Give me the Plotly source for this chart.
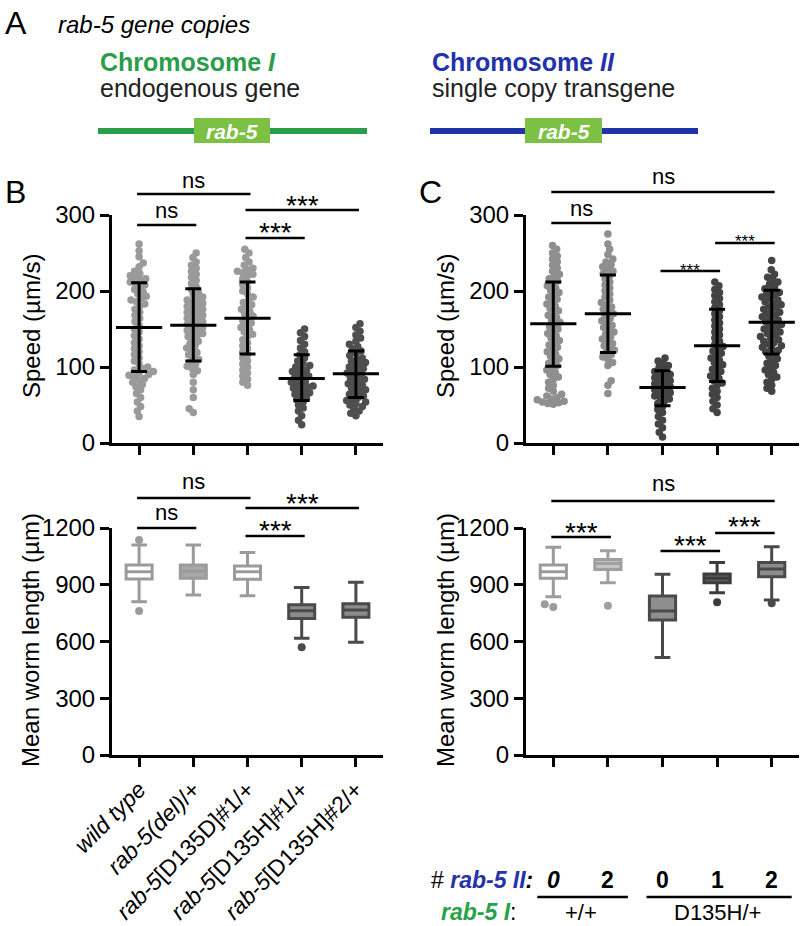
import math
import plotly.graph_objects as go

# ---------------- data ----------------
groups_B = ["wild type", "rab-5(del)/+", "rab-5[D135D]#1/+", "rab-5[D135H]#1/+", "rab-5[D135H]#2/+"]
tick_B = ["<i>wild type</i>", "<i>rab-5(del)</i>/+", "<i>rab-5</i>[D135D]#1/+",
          "<i>rab-5</i>[D135H]#1/+", "<i>rab-5</i>[D135H]#2/+"]
copies_II = ["0", "2", "0", "1", "2"]
rab5_I_groups = ["+/+", "D135H/+"]

speed_B0 = [262, 253, 245, 237, 232, 226, 223, 220, 218, 216, 214, 212, 210, 208, 205, 202, 199, 196, 193, 190,
            188, 186, 183, 180, 176, 172, 168, 164, 160, 155, 150, 146, 141, 137, 132, 128, 124, 120, 116, 112,
            108, 104, 100, 98, 96, 94, 92, 90, 89, 87, 85, 83, 80, 77, 74, 70, 65, 60, 54, 48, 42, 35]
speed_B1 = [250, 244, 238, 234, 230, 226, 222, 218, 214, 210, 206, 202, 198, 195, 192, 190, 188, 186, 184, 182,
            180, 178, 176, 174, 172, 170, 168, 166, 164, 162, 160, 158, 156, 154, 152, 150, 148, 146, 144, 142,
            140, 137, 134, 131, 128, 125, 122, 119, 116, 113, 110, 107, 104, 101, 98, 95, 90, 80, 70, 60, 45, 40]
speed_B2 = [255, 250, 244, 238, 234, 230, 228, 226, 224, 222, 220, 216, 212, 208, 204, 200, 196, 192, 188, 185,
            182, 179, 176, 173, 170, 167, 164, 161, 158, 155, 152, 149, 146, 143, 140, 136, 132, 128, 124, 120,
            116, 112, 108, 104, 100, 96, 92, 88, 84, 80, 76]
speed_B3 = [150, 145, 140, 135, 130, 125, 120, 116, 112, 108, 105, 102, 100, 98, 96, 94, 92, 90, 88, 86,
            84, 82, 80, 78, 76, 75, 74, 72, 70, 68, 66, 64, 62, 60, 57, 54, 50, 46, 42, 36, 30, 24]
speed_B4 = [157, 152, 147, 142, 138, 134, 130, 127, 124, 121, 118, 115, 112, 110, 108, 106, 104, 102, 100, 98,
            96, 94, 92, 90, 88, 86, 84, 82, 80, 78, 76, 74, 72, 70, 68, 66, 64, 62, 60, 58,
            56, 54, 52, 50, 48, 45, 42, 39, 36]
speed_B = [speed_B0, speed_B1, speed_B2, speed_B3, speed_B4]
mean_B = [152, 155, 164, 85, 91]
sd_hi_B = [211, 203, 212, 116, 121]
sd_lo_B = [94, 108, 117, 56, 60]

speed_C0 = [260, 255, 250, 246, 242, 238, 234, 230, 226, 222, 219, 216, 213, 210, 207, 204, 201, 198, 195, 192,
            189, 186, 183, 180, 177, 174, 171, 168, 165, 162, 159, 156, 153, 150, 147, 144, 141, 138, 135, 132,
            129, 126, 123, 120, 117, 114, 111, 108, 105, 102, 99, 96, 93, 90, 87, 84, 80, 76, 72, 68,
            64, 60, 57, 55, 53, 52, 51, 54, 58, 62]
speed_C1 = [275, 262, 255, 248, 242, 238, 235, 232, 229, 226, 223, 220, 216, 212, 208, 204, 200, 196, 192, 188,
            185, 182, 179, 176, 173, 170, 167, 164, 161, 158, 155, 152, 149, 146, 143, 140, 137, 134, 131, 128,
            125, 122, 119, 116, 113, 110, 106, 102, 82, 76, 65]
speed_C2 = [112, 108, 105, 102, 100, 97, 94, 92, 90, 88, 86, 84, 82, 80, 78, 76, 74, 72, 70, 68,
            66, 64, 62, 60, 58, 55, 52, 48, 44, 40, 35, 30, 25, 20, 14, 8]
speed_C3 = [212, 207, 202, 198, 194, 190, 186, 182, 178, 174, 170, 166, 162, 158, 154, 150, 146, 142, 138, 134,
            130, 127, 124, 121, 118, 115, 112, 109, 106, 103, 100, 97, 94, 91, 88, 85, 82, 79, 76, 72,
            68, 64, 60, 55, 50, 45, 40]
speed_C4 = [240, 228, 222, 218, 215, 212, 209, 206, 203, 200, 198, 196, 194, 192, 190, 188, 186, 184, 182, 180,
            178, 176, 174, 172, 170, 168, 166, 164, 162, 160, 158, 156, 154, 152, 150, 148, 146, 144, 142, 140,
            138, 136, 134, 132, 130, 128, 126, 124, 122, 120, 117, 114, 111, 108, 105, 102, 99, 96, 93, 90,
            87, 84, 80, 76, 72, 68]
speed_C = [speed_C0, speed_C1, speed_C2, speed_C3, speed_C4]
mean_C = [157, 170, 73, 128, 159]
sd_hi_C = [212, 221, 95, 176, 201]
sd_lo_C = [101, 119, 49, 81, 117]

# box stats: lower whisker, q1, median, q3, upper whisker
len_B_low = [810, 846, 842, 617, 596]
len_B_q1 = [930, 934, 929, 722, 728]
len_B_med = [969, 972, 969, 763, 766]
len_B_q3 = [1004, 1004, 999, 794, 800]
len_B_high = [1110, 1110, 1071, 886, 913]
len_B_out = [[1136, 761], [], [], [569], []]

len_C_low = [837, 911, 516, 858, 819]
len_C_q1 = [934, 981, 713, 911, 942]
len_C_med = [969, 1012, 761, 934, 983]
len_C_q3 = [1004, 1034, 840, 957, 1018]
len_C_high = [1098, 1080, 955, 1018, 1101]
len_C_out = [[782, 797], [789], [], [807], [802]]

# ---------------- layout helpers ----------------
W, H = 800, 926
LIGHT_B, DARK_B = "#9a9a9a", "#4f4f4f"
LIGHT_C, DARK_C = "#8f8f8f", "#444444"
FONT = "Liberation Sans, Arial, Helvetica, sans-serif"


def PX(x):
    return x / W


def PY(y):
    return 1 - y / H


AX = {
    "B_top": dict(xa="x", ya="y", x0=112, x1=383, yt=215, yb=443, yr=(0, 300), dt=[0, 100, 200, 300]),
    "B_bot": dict(xa="x2", ya="y2", x0=112, x1=383, yt=528, yb=755, yr=(0, 1200), dt=[0, 300, 600, 900, 1200]),
    "C_top": dict(xa="x3", ya="y3", x0=526, x1=799, yt=215, yb=443, yr=(0, 300), dt=[0, 100, 200, 300]),
    "C_bot": dict(xa="x4", ya="y4", x0=526, x1=799, yt=528, yb=755, yr=(0, 1200), dt=[0, 300, 600, 900, 1200]),
}
XR = (-0.5, 4.5)


def cat_px(ax, i):
    a = AX[ax]
    return a["x0"] + (i - XR[0]) / (XR[1] - XR[0]) * (a["x1"] - a["x0"])


def swarm(values, ppu_y, ppu_x, diam):
    order = sorted(range(len(values)), key=lambda k: values[k])
    placed = []
    offs = [0.0] * len(values)
    for n, k in enumerate(order):
        y = values[k] * ppu_y
        nb = [(yy, xx) for (yy, xx) in placed if abs(yy - y) < diam]
        cands = [0.0]
        for (yy, xx) in nb:
            dx = math.sqrt(max(diam ** 2 - (yy - y) ** 2, 0))
            cands += [xx + dx, xx - dx]
        sgn = 1 if n % 2 else -1
        cands.sort(key=lambda c: (round(abs(c), 4), sgn * c))
        chosen = 0.0
        for c in cands:
            if all((c - xx) ** 2 + (y - yy) ** 2 >= diam ** 2 - 1e-6 for (yy, xx) in nb):
                chosen = c
                break
        placed.append((y, chosen))
        offs[k] = chosen / ppu_x
    return offs


fig = go.Figure()


def ppu(ax):
    a = AX[ax]
    return (a["yb"] - a["yt"]) / (a["yr"][1] - a["yr"][0]), (a["x1"] - a["x0"]) / (XR[1] - XR[0])


# ---------- scatter panels ----------
for ax, data, means, hi, lo, cols in [
    ("B_top", speed_B, mean_B, sd_hi_B, sd_lo_B, [LIGHT_B] * 3 + [DARK_B] * 2),
    ("C_top", speed_C, mean_C, sd_hi_C, sd_lo_C, [LIGHT_C] * 2 + [DARK_C] * 3),
]:
    a = AX[ax]
    py_, px_ = ppu(ax)
    for i, vals in enumerate(data):
        offs = swarm(vals, py_, px_, 5.6)
        fig.add_trace(go.Scatter(
            x=[i + o for o in offs], y=vals, mode="markers", xaxis=a["xa"], yaxis=a["ya"],
            marker=dict(size=7.5, color=cols[i], line=dict(width=0)), cliponaxis=False,
            showlegend=False, hoverinfo="y"))
    fig.add_trace(go.Scatter(
        x=list(range(5)), y=means, mode="markers", xaxis=a["xa"], yaxis=a["ya"],
        marker=dict(symbol="line-ew", size=33, color="black", line=dict(width=3, color="black")),
        error_y=dict(type="data", symmetric=False,
                     array=[h - m for h, m in zip(hi, means)],
                     arrayminus=[m - l for m, l in zip(means, lo)],
                     color="black", thickness=3, width=8),
        cliponaxis=False, showlegend=False))

# ---------- box panels ----------
for ax, lows, q1s, meds, q3s, highs, outs, lines, fills in [
    ("B_bot", len_B_low, len_B_q1, len_B_med, len_B_q3, len_B_high, len_B_out,
     ["#9b9b9b"] * 3 + ["#4a4a4a"] * 2, ["#ffffff", "#a8a8a8", "#ffffff", "#8c8c8c", "#8c8c8c"]),
    ("C_bot", len_C_low, len_C_q1, len_C_med, len_C_q3, len_C_high, len_C_out,
     ["#9b9b9b", "#a0a0a0", "#4a4a4a", "#3c3c3c", "#4a4a4a"],
     ["#ffffff", "#c4c4c4", "#8e8e8e", "#5e5e5e", "#8c8c8c"]),
]:
    a = AX[ax]
    py_, px_ = ppu(ax)
    for i in range(5):
        fig.add_trace(go.Box(
            x=[i], q1=[q1s[i]], median=[meds[i]], q3=[q3s[i]], lowerfence=[lows[i]], upperfence=[highs[i]],
            xaxis=a["xa"], yaxis=a["ya"], width=0.48, whiskerwidth=0.6, boxpoints=False,
            line=dict(color=lines[i], width=3), fillcolor=fills[i], showlegend=False))
        if outs[i]:
            offs = swarm(outs[i], py_, px_, 9)
            fig.add_trace(go.Scatter(
                x=[i + o for o in offs], y=outs[i], mode="markers", xaxis=a["xa"], yaxis=a["ya"],
                marker=dict(size=8, color=lines[i]), cliponaxis=False, showlegend=False))

# ---------- axes ----------
axis_common = dict(showline=True, linewidth=3, linecolor="black", ticks="outside", ticklen=9,
                   tickwidth=3, tickcolor="black", showgrid=False, zeroline=False, automargin=False,
                   tickfont=dict(family=FONT, size=24, color="black"))
for ax, a in AX.items():
    xk = "xaxis" + a["xa"][1:]
    yk = "yaxis" + a["ya"][1:]
    fig.layout[xk] = dict(axis_common, domain=[PX(a["x0"]), PX(a["x1"])], range=list(XR),
                          anchor=a["ya"], tickvals=list(range(5)),
                          showticklabels=(ax == "B_bot"), fixedrange=True)
    fig.layout[yk] = dict(axis_common, domain=[PY(a["yb"]), PY(a["yt"])], range=list(a["yr"]),
                          anchor=a["xa"], tickvals=a["dt"], fixedrange=True)
fig.layout.xaxis2.ticktext = tick_B
fig.layout.xaxis2.tickangle = -45
fig.layout.xaxis2.tickfont = dict(family=FONT, size=23, color="black")

ann = []
shapes = []


def text(x, y, t, size, color="black", xanchor="center", yanchor="middle", angle=0):
    ann.append(dict(x=PX(x), y=PY(y), xref="paper", yref="paper", text=t, showarrow=False,
                    xanchor=xanchor, yanchor=yanchor, textangle=angle,
                    font=dict(family=FONT, size=size, color=color)))


def hline(x0, x1, y, color="black", width=2.5):
    shapes.append(dict(type="line", xref="paper", yref="paper", x0=PX(x0), x1=PX(x1),
                       y0=PY(y), y1=PY(y), line=dict(color=color, width=width)))


# axis titles & panel letters
text(32, 326, "Speed (µm/s)", 24, angle=-90)
text(446, 326, "Speed (µm/s)", 24, angle=-90)
text(30, 640, "Mean worm length (µm)", 24, angle=-90)
text(445, 640, "Mean worm length (µm)", 24, angle=-90)
text(3, 192, "B", 32, xanchor="left")
text(417, 192, "C", 32, xanchor="left")
text(3, 23, "A", 32, xanchor="left")

# significance bars: (axis, i0, i1, line_y, label, size, text_y)
sig = [
    ("B_top", 0, 2, 194, "ns", 22, 180), ("B_top", 0, 1, 225, "ns", 22, 210),
    ("B_top", 2, 4, 210, "***", 28, 205), ("B_top", 2, 3, 238, "***", 28, 233),
    ("C_top", 0, 4, 192, "ns", 22, 177), ("C_top", 0, 1, 223, "ns", 22, 208),
    ("C_top", 2, 3, 271, "***", 17, 270), ("C_top", 3, 4, 243, "***", 17, 242),
    ("B_bot", 0, 2, 498, "ns", 22, 482), ("B_bot", 0, 1, 528, "ns", 22, 512),
    ("B_bot", 2, 4, 508, "***", 28, 503), ("B_bot", 2, 3, 536, "***", 28, 530),
    ("C_bot", 0, 4, 501, "ns", 22, 484), ("C_bot", 0, 1, 537, "***", 28, 532),
    ("C_bot", 2, 3, 551, "***", 28, 545), ("C_bot", 3, 4, 533, "***", 28, 526),
]
for ax, i0, i1, ly, lab, sz, ty in sig:
    xa, xb = cat_px(ax, i0) - 2, cat_px(ax, i1) + 3
    hline(xa, xb, ly)
    text((xa + xb) / 2, ty, lab, sz)

# C bottom category rows
ROW_II, ROW_LINE, ROW_I = 880, 897, 912
for i, lab in enumerate(copies_II):
    t = "<b><i>%s</i></b>" % lab if i == 0 else "<b>%s</b>" % lab
    text(cat_px("C_bot", i), ROW_II, t, 23)
text(535, ROW_II, "# <b><i><span style='color:#2433a8'>rab-5 II</span>:</i></b>", 23, xanchor="right")
text(518, ROW_I, "<b><i><span style='color:#27a14a'>rab-5 I</span></i></b>:", 23, xanchor="right")
for lab, (i0, i1) in zip(rab5_I_groups, [(0, 1), (2, 4)]):
    xa, xb = cat_px("C_bot", i0) - 16, cat_px("C_bot", i1) + 20
    hline(xa, xb, ROW_LINE, width=2.5)
    text((cat_px("C_bot", i0) + cat_px("C_bot", i1)) / 2, ROW_I, lab, 22)

# panel A diagram
text(56, 25, "<i>rab-5 gene copies</i>", 24, xanchor="left")
for x0, x1, bx0, bx1, col, title, sub in [
    (98, 367, 194, 270, "#2a9d4a", "Chromosome <i>I</i>", "endogenous gene"),
    (430, 698, 525, 602, "#2233aa", "Chromosome <i>II</i>", "single copy transgene"),
]:
    text(x0, 62, "<b>%s</b>" % title, 25, color=col, xanchor="left")
    text(x0, 88, sub, 25, color="#222222", xanchor="left")
    hline(x0, x1, 131, color=col, width=6)
    shapes.append(dict(type="rect", xref="paper", yref="paper", x0=PX(bx0), x1=PX(bx1),
                       y0=PY(143), y1=PY(118), fillcolor="#7cc143", line=dict(width=0)))
    text((bx0 + bx1) / 2, 131, "<b><i>rab-5</i></b>", 21, color="white")

fig.update_layout(
    template="none",
    width=W, height=H, margin=dict(l=0, r=0, t=0, b=0, pad=0, autoexpand=False),
    paper_bgcolor="white", plot_bgcolor="white",
    annotations=ann, shapes=shapes, showlegend=False,
    font=dict(family=FONT, color="black"),
)

fig.write_html("out.html", config={"displayModeBar": False},
               post_script="document.body.style.margin='0';document.body.style.overflow='hidden';")
